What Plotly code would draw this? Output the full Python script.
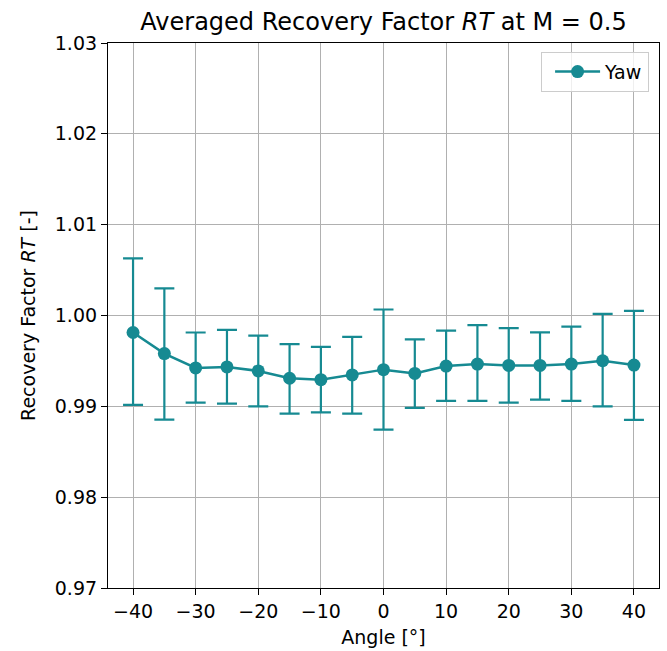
import plotly.graph_objects as go

angles = [-40, -35, -30, -25, -20, -15, -10, -5, 0, 5, 10, 15, 20, 25, 30, 35, 40]
rt_mean = [0.99813, 0.99581, 0.99423, 0.99434, 0.99390, 0.99309, 0.99294, 0.99346, 0.99404,
           0.99362, 0.99443, 0.99465, 0.99450, 0.99450, 0.99465, 0.99502, 0.99454]
rt_upper = [1.00629, 1.00298, 0.99813, 0.99842, 0.99779, 0.99684, 0.99654, 0.99765, 1.00066,
            0.99738, 0.99834, 0.99893, 0.99860, 0.99815, 0.99878, 1.00018, 1.00052]
rt_lower = [0.99015, 0.98853, 0.99040, 0.99029, 0.99000, 0.98919, 0.98934, 0.98919, 0.98743,
            0.98982, 0.99059, 0.99059, 0.99041, 0.99074, 0.99059, 0.99000, 0.98852]
y_ticks = [0.97, 0.98, 0.99, 1.00, 1.01, 1.02, 1.03]
x_ticks = [-40, -30, -20, -10, 0, 10, 20, 30, 40]

err_plus = [u - m for u, m in zip(rt_upper, rt_mean)]
err_minus = [m - l for m, l in zip(rt_mean, rt_lower)]

color = "#168a92"
fig = go.Figure()
fig.add_trace(go.Scatter(
    x=angles, y=rt_mean, mode="lines+markers", name="Yaw",
    line=dict(color=color, width=2.5),
    marker=dict(color=color, size=13),
    error_y=dict(type="data", symmetric=False, array=err_plus, arrayminus=err_minus,
                 color=color, thickness=2.2, width=10),
))

font = "DejaVu Sans, Liberation Sans, sans-serif"
L, R, T, B = 108, 8, 43, 63
fig.update_layout(
    width=667, height=651,
    margin=dict(l=L, r=R, t=T, b=B),
    plot_bgcolor="white", paper_bgcolor="white",
    font=dict(family=font, size=19, color="black"),
    title=dict(text="Averaged Recovery Factor <i>RT</i> at M = 0.5",
               x=(L + 667 - R) / 2 / 667, xanchor="center", y=1 - 22 / 651, yanchor="middle",
               font=dict(size=24)),
    showlegend=True,
    legend=dict(x=0.982, xanchor="right", y=0.984, yanchor="top",
                bgcolor="rgba(255,255,255,0.8)", bordercolor="#cccccc", borderwidth=1,
                indentation=8, itemwidth=45, font=dict(size=19)),
    xaxis=dict(range=[-44, 44], tickvals=x_ticks, ticktext=[str(v).replace("-", "\u2212") for v in x_ticks],
               showgrid=True, gridcolor="#b0b0b0", gridwidth=1,
               showline=True, linecolor="black", linewidth=1.2, mirror=True,
               ticks="outside", ticklen=6, tickcolor="black", zeroline=False,
               automargin=False, tickfont=dict(size=19),
               title=dict(text="Angle [°]", standoff=9, font=dict(size=19))),
    yaxis=dict(range=[0.97, 1.03], tickvals=y_ticks, ticktext=[f"{v:.2f}" for v in y_ticks],
               showgrid=True, gridcolor="#b0b0b0", gridwidth=1,
               showline=True, linecolor="black", linewidth=1.2, mirror=True,
               ticks="outside", ticklen=6, tickcolor="black", zeroline=False,
               automargin=False, tickfont=dict(size=19),
               title=dict(text="Recovery Factor <i>RT</i> [-]", standoff=14, font=dict(size=19))),
)

fig.write_html("out.html", config={"displayModeBar": False},
               post_script="document.body.style.margin='0';document.body.style.overflow='hidden';")
